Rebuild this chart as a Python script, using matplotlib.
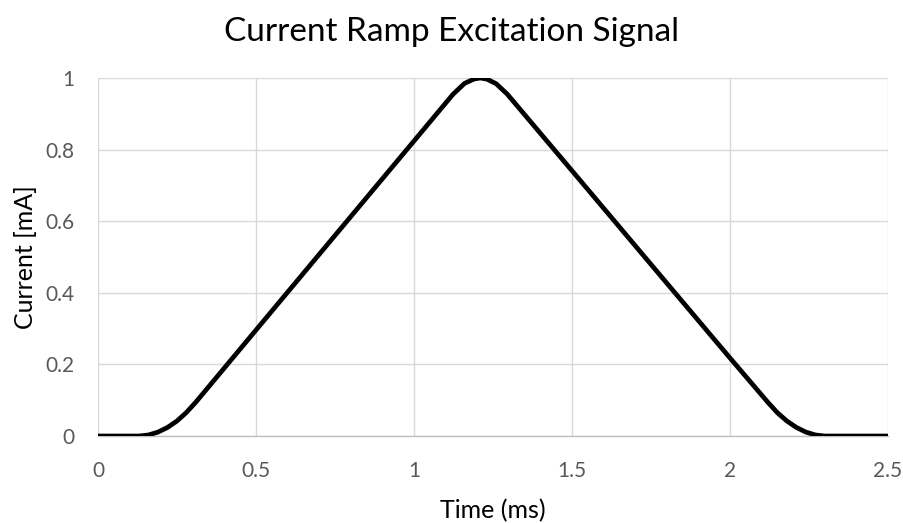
import matplotlib
matplotlib.use("Agg")
import matplotlib.pyplot as plt

# Excitation current ramp (time in ms, current in mA)
time_ms = [0.00, 0.10, 0.13, 0.16, 0.19, 0.22, 0.25, 0.28, 0.31,
           0.50, 0.80, 1.00, 1.123, 1.16, 1.19, 1.21, 1.23, 1.26, 1.295,
           1.50, 1.80, 2.00, 2.12, 2.15, 2.18, 2.21, 2.24, 2.27, 2.30, 2.50]
current_ma = [0.000, 0.000, 0.000, 0.003, 0.011, 0.024, 0.042, 0.066, 0.095,
              0.296, 0.613, 0.824, 0.954, 0.985, 0.997, 1.000, 0.997, 0.984, 0.955,
              0.741, 0.427, 0.218, 0.094, 0.065, 0.042, 0.024, 0.011, 0.003, 0.000, 0.000]

x_ticks = [0, 0.5, 1, 1.5, 2, 2.5]
x_tick_labels = ["0", "0.5", "1", "1.5", "2", "2.5"]
y_ticks = [0, 0.2, 0.4, 0.6, 0.8, 1]
y_tick_labels = ["0", "0.2", "0.4", "0.6", "0.8", "1"]

plt.rcParams['font.family'] = ['Lato', 'DejaVu Sans']

fig = plt.figure(figsize=(9.04, 5.23), dpi=100)
ax = fig.add_axes([0.1084, 0.1663, 0.9823 - 0.1084, 0.8509 - 0.1663])

ax.plot(time_ms, current_ma, color="black", linewidth=3.4,
        solid_capstyle="butt", solid_joinstyle="round", zorder=3)

ax.set_xlim(0, 2.5)
ax.set_ylim(0, 1)
ax.set_xticks(x_ticks)
ax.set_xticklabels(x_tick_labels)
ax.set_yticks(y_ticks)
ax.set_yticklabels(y_tick_labels)

ax.grid(True, color="#D9D9D9", linewidth=1.0)
ax.set_axisbelow(True)
for side in ("top", "right", "left"):
    ax.spines[side].set_visible(False)
ax.spines["bottom"].set_color("#BFBFBF")
ax.spines["bottom"].set_linewidth(1.0)
ax.tick_params(axis="both", length=0, labelsize=15, colors="#595959")
ax.tick_params(axis="x", pad=18)
ax.tick_params(axis="y", pad=17)

ax.set_xlabel("Time (ms)", fontsize=18, color="black", labelpad=13)
ax.set_ylabel("Current [mA]", fontsize=18, color="black", labelpad=6)
fig.suptitle("Current Ramp Excitation Signal", fontsize=24, x=0.5, y=0.967)

fig.savefig("out.png", dpi=100, facecolor="white")
